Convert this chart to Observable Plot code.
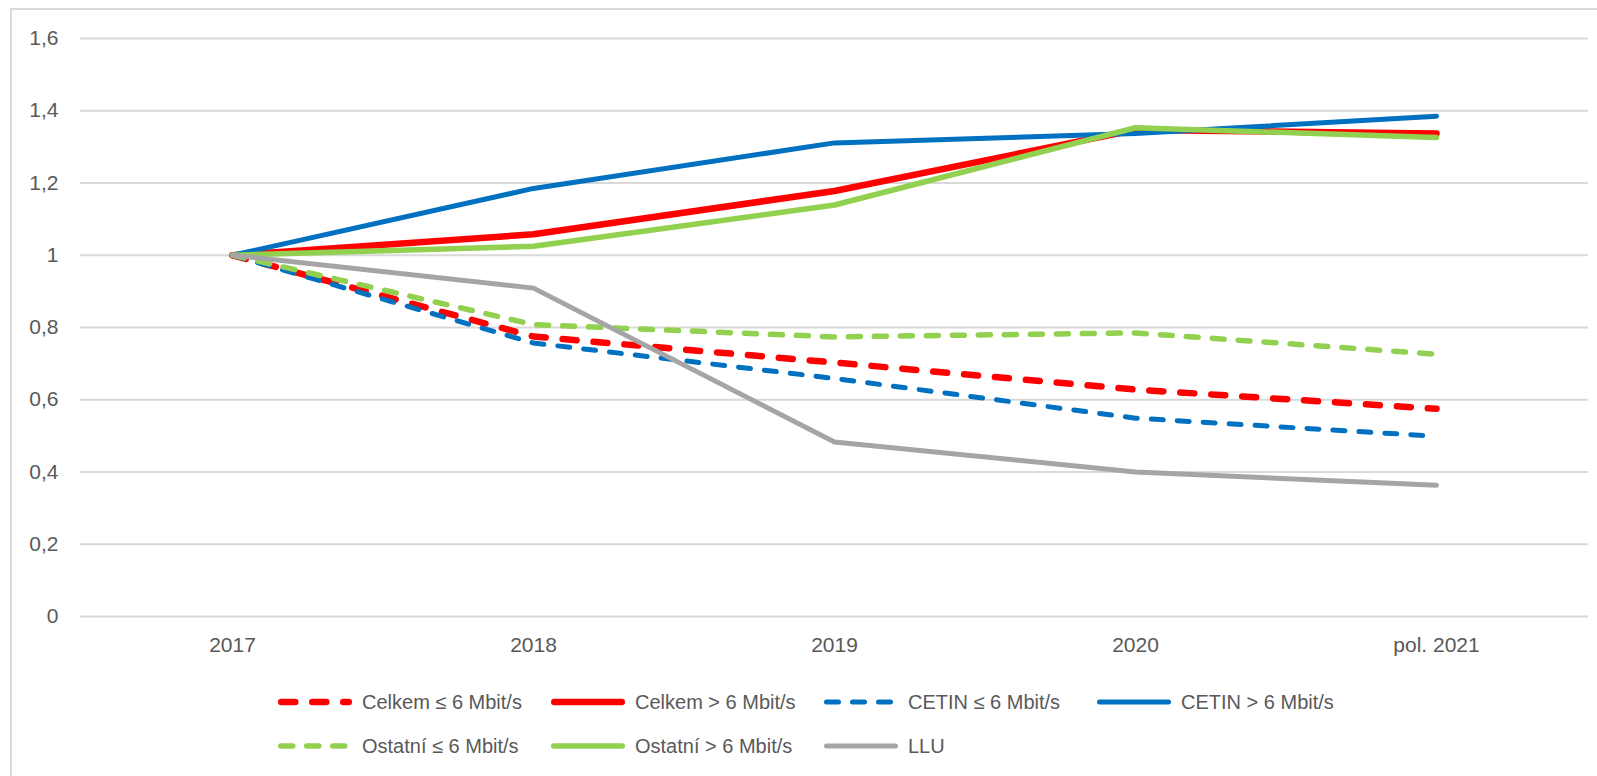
<!DOCTYPE html>
<html>
<head>
<meta charset="utf-8">
<script src="https://cdn.jsdelivr.net/npm/d3@7"></script>
<script src="https://cdn.jsdelivr.net/npm/@observablehq/plot@0.6"></script>
<style>
  html, body { margin: 0; padding: 0; background: #fff; overflow: hidden; }
  body { width: 1597px; height: 776px; position: relative; font-family: "Liberation Sans", Arial, sans-serif; }
  #frame { position: absolute; left: 10px; top: 8px; width: 1620px; height: 820px; border: 2px solid #d9d9d9; box-sizing: border-box; }
  #chart { position: absolute; left: 0; top: 0; }
  #legend { position: absolute; left: 277px; top: 680px; display: grid; grid-template-columns: repeat(4, 273px); grid-auto-rows: 44px; color: #595959; font-size: 20px; }
  .item { display: flex; align-items: center; white-space: nowrap; }
  .item svg { margin-right: 9px; flex: none; }
</style>
</head>
<body>
<div id="frame"></div>
<div id="chart"></div>
<div id="legend"></div>
<script>
// categories
const years = ["2017", "2018", "2019", "2020", "pol. 2021"];
// series values (index 2017 = 1)
const celkemLow   = [1, 0.775, 0.703, 0.628, 0.575];
const celkemHigh  = [1, 1.058, 1.178, 1.347, 1.337];
const cetinLow    = [1, 0.757, 0.659, 0.549, 0.499];
const cetinHigh   = [1, 1.185, 1.311, 1.337, 1.385];
const ostatniLow  = [1, 0.808, 0.774, 0.785, 0.726];
const ostatniHigh = [1, 1.025, 1.139, 1.353, 1.326];
const llu         = [1, 0.909, 0.483, 0.400, 0.363];
// y tick values
const yTicks = [0, 0.2, 0.4, 0.6, 0.8, 1, 1.2, 1.4, 1.6];

const series = [
  {name: "Celkem \u2264 6 Mbit/s",  values: celkemLow,   color: "#ff0000", width: 6.5, dash: "14 17"},
  {name: "Celkem > 6 Mbit/s",       values: celkemHigh,  color: "#ff0000", width: 6.5, dash: null},
  {name: "CETIN \u2264 6 Mbit/s",   values: cetinLow,    color: "#0070c0", width: 5,   dash: "12 14"},
  {name: "CETIN > 6 Mbit/s",        values: cetinHigh,   color: "#0070c0", width: 5,   dash: null},
  {name: "Ostatní \u2264 6 Mbit/s", values: ostatniLow,  color: "#92d050", width: 5.5, dash: "12 14"},
  {name: "Ostatní > 6 Mbit/s",      values: ostatniHigh, color: "#92d050", width: 5.5, dash: null},
  {name: "LLU",                     values: llu,         color: "#a5a5a5", width: 5,   dash: null}
];

const fmt = d => String(d).replace(".", ",");

const lineMarks = series.map(s => Plot.line(
  years.map((y, i) => ({year: y, value: s.values[i]})),
  {x: "year", y: "value", stroke: s.color, strokeWidth: s.width,
   strokeDasharray: s.dash || undefined, strokeLinecap: "round", strokeLinejoin: "round"}
));

const chart = Plot.plot({
  width: 1597,
  height: 670,
  marginLeft: 80,
  marginRight: 9,
  marginTop: 38,
  marginBottom: 54,
  style: {fontFamily: "'Liberation Sans', Arial, sans-serif", fontSize: "21px", color: "#595959", background: "transparent", overflow: "visible"},
  x: {type: "point", domain: years, padding: 0.5, label: null},
  y: {domain: [0, 1.6], label: null},
  marks: [
    Plot.ruleY(yTicks, {stroke: "#d9d9d9", strokeWidth: 2}),
    ...lineMarks,
    Plot.axisY({ticks: yTicks, tickFormat: fmt, tickSize: 0, tickPadding: 22, label: null}),
    Plot.axisX({tickSize: 0, tickPadding: 21, label: null})
  ]
});
document.getElementById("chart").appendChild(chart);

// legend
const legend = d3.select("#legend");
const items = legend.selectAll(".item").data(series).join("div").attr("class", "item");
const sw = items.append("svg").attr("width", 76).attr("height", 14);
sw.append("line")
  .attr("x1", d => d.width / 2 + 1).attr("x2", d => 75 - d.width / 2)
  .attr("y1", 7).attr("y2", 7)
  .attr("stroke", d => d.color)
  .attr("stroke-width", d => d.width)
  .attr("stroke-linecap", "round")
  .attr("stroke-dasharray", d => d.dash);
items.append("span").text(d => d.name);
</script>
</body>
</html>
